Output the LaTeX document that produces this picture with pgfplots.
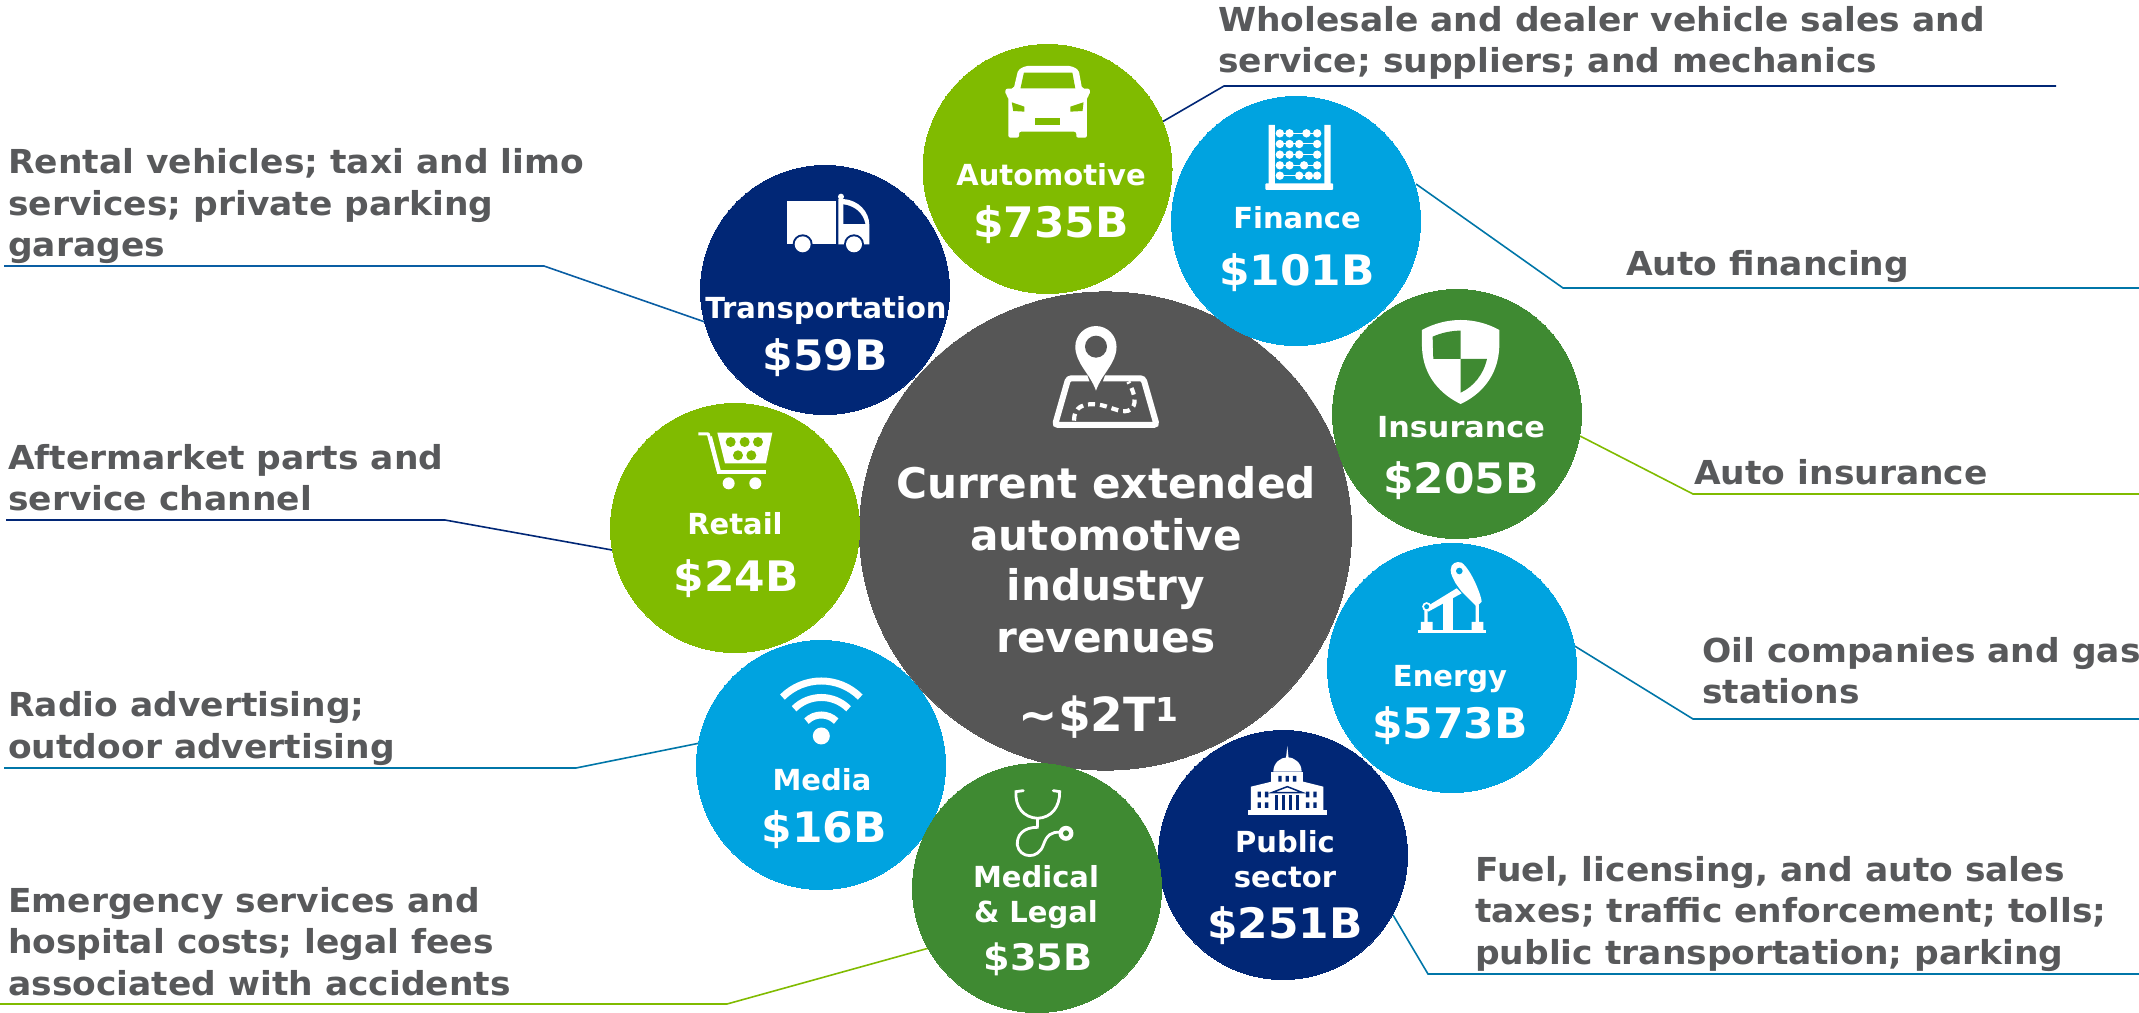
\documentclass[border=0pt]{standalone}
\usepackage{pgfplots}
\pgfplotsset{compat=1.18}
\usepackage{fontspec}
\setmainfont{DejaVu Sans}
\definecolor{lime}{HTML}{80BB00}
\definecolor{sky}{HTML}{00A3E0}
\definecolor{forest}{HTML}{3F8A32}
\definecolor{navy}{HTML}{012776}
\definecolor{hub}{HTML}{565656}
\definecolor{txt}{HTML}{58595B}
\definecolor{teal}{HTML}{0076A8}
\definecolor{deep}{HTML}{0A5EA3}
\newcommand{\T}[3]{\node[anchor=base west,inner sep=0pt,xscale=1.045,text=txt,font=\fontsize{33}{33}\selectfont\bfseries] at (axis cs:#1,#2) {#3};}
\newcommand{\C}[4]{\node[anchor=base,inner sep=0pt,text=white,font=\fontsize{#3}{#3}\selectfont\bfseries] at (axis cs:#1,#2) {#4};}
\newcommand{\V}[4]{\node[anchor=base,inner sep=0pt,xscale=1.045,text=white,font=\fontsize{#3}{#3}\selectfont\bfseries] at (axis cs:#1,#2) {#4};}
\tikzset{crop/.style n args={3}{x=1pt/#3,y=-0.33333pt,shift={(#1*#3,#2*3)}}}
\pgfplotsset{canvas/.style={at={(0,0)},anchor=south west,width=2139pt,height=1012pt,scale only axis,hide axis,
  xmin=0,xmax=2139,ymin=0,ymax=1012,y dir=reverse,clip=false}}
\begin{document}
\begin{tikzpicture}
\useasboundingbox (0,0) rectangle (2139pt,1012pt);
\clip (0,0) rectangle (2139pt,1012pt);
\begin{axis}[canvas]
% leader lines
\addplot[navy,line width=1.6pt,mark=none] coordinates {(1162,122)(1224,86)(2056,86)};
\addplot[teal,line width=1.6pt,mark=none] coordinates {(1416,184)(1563,288)(2139,288)};
\addplot[lime,line width=1.6pt,mark=none] coordinates {(1580,436)(1693,494)(2139,494)};
\addplot[teal,line width=1.6pt,mark=none] coordinates {(1573,645)(1693,719)(2139,719)};
\addplot[teal,line width=1.6pt,mark=none] coordinates {(1393,915)(1428,974)(2139,974)};
\addplot[lime,line width=1.6pt,mark=none] coordinates {(929,948)(727,1004)(0,1004)};
\addplot[teal,line width=1.6pt,mark=none] coordinates {(700,743)(576,768)(4,768)};
\addplot[navy,line width=1.6pt,mark=none] coordinates {(612,550)(445,520)(6,520)};
\addplot[deep,line width=1.6pt,mark=none] coordinates {(705,322)(544,266)(4,266)};
% bubbles
\addplot[only marks,mark=*,mark size=246pt,mark options={draw=hub,fill=hub,line width=0pt,yscale=0.972}] coordinates {(1105.5,531)};
\addplot[only marks,mark=*,mark size=124.5pt,mark options={draw=lime,fill=lime,line width=0pt}] coordinates {(1047.5,169)(735,528)};
\addplot[only marks,mark=*,mark size=124.5pt,mark options={draw=navy,fill=navy,line width=0pt}] coordinates {(825,290)(1283,855)};
\addplot[only marks,mark=*,mark size=124.5pt,mark options={draw=sky,fill=sky,line width=0pt}] coordinates {(1296,221)(1452,668)(821,765)};
\addplot[only marks,mark=*,mark size=124.5pt,mark options={draw=forest,fill=forest,line width=0pt}] coordinates {(1457,414)(1037,888)};
\end{axis}
\begin{axis}[canvas]
% outer text
\T{1218}{31}{Wholesale and dealer vehicle sales and}
\T{1218}{72}{service; suppliers; and mechanics}
\T{1626}{275}{Auto financing}
\T{1694}{484}{Auto insurance}
\T{1702}{662}{Oil companies and gas}
\T{1702}{703}{stations}
\T{1475}{881}{Fuel, licensing, and auto sales}
\T{1475}{922}{taxes; traffic enforcement; tolls;}
\T{1475}{964}{public transportation; parking}
\T{8}{173}{Rental vehicles; taxi and limo}
\T{8}{215}{services; private parking}
\T{8}{256}{garages}
\T{8}{469}{Aftermarket parts and}
\T{8}{510}{service channel}
\T{8}{716}{Radio advertising;}
\T{8}{758}{outdoor advertising}
\T{8}{912}{Emergency services and}
\T{8}{953}{hospital costs; legal fees}
\T{8}{995}{associated with accidents}
% bubble text
\C{1051}{185}{29}{Automotive}
\V{1051}{237}{42}{\$735B}
\C{1297}{228}{29}{Finance}
\V{1297}{285}{42}{\$101B}
\V{1461}{437}{29}{Insurance}
\V{1461}{493}{42}{\$205B}
\C{1450}{686}{29}{Energy}
\V{1450}{738}{42}{\$573B}
\C{1285}{852}{29}{Public}
\C{1285}{887}{29}{sector}
\V{1285}{938}{42}{\$251B}
\C{1036}{887}{29}{Medical}
\C{1036}{922}{29}{\& Legal}
\V{1038}{970}{36.5}{\$35B}
\C{822}{790}{29}{Media}
\V{824}{842}{42}{\$16B}
\C{735}{534}{29}{Retail}
\V{736}{591}{42}{\$24B}
\C{826}{318}{29}{Transportation}
\V{825}{370}{42}{\$59B}
\C{1106}{498}{42.2}{Current extended}
\C{1106}{550}{42.2}{automotive}
\C{1106}{600}{42.2}{industry}
\C{1106}{652}{42.2}{revenues}
\C{1099}{731}{47}{\textasciitilde\$2T\textsuperscript{1}}
\end{axis}
\begin{scope}[x=1pt,y=-1pt,yshift=1012pt]
% car
\begin{scope}[crop={880}{0}{2.063}]
\fill[white,rounded corners=2pt] (265,413)--(265,290)--(259,285)--(259,266)--(276,266)--(285,210)--(300,198)--(395,198)--(410,210)--(417,266)--(433,266)--(433,285)--(427,290)--(427,413)--(405,413)--(405,395)--(287,395)--(287,413)--cycle;
\fill[lime] (290,265)--(297,218)--(397,218)--(403,265)--cycle;
\fill[lime] (272,307)--(298,320)--(298,335)--(275,333)--cycle;
\fill[lime] (420,307)--(393,320)--(393,335)--(418,333)--cycle;
\fill[lime] (320,355) rectangle (372,375);
% abacus
\fill[white] (802,375) rectangle (815,555) (917,375) rectangle (930,555);
\fill[white,rounded corners=1pt] (795,550) rectangle (935,570);
\foreach \y/\a/\b/\c/\d in {400/825/845/880/902,432/825/845/865/902,464/825/845/865/902,496/825/845/875/902,527/825/865/885/902}{
  \draw[white,line width=1pt] (820,\y)--(910,\y);
  \foreach \xx in {\a,\b,\c,\d}{\fill[white] (\xx,\y) circle (4.2pt);}
}
\end{scope}
% truck
\begin{scope}[crop={680}{150}{3}]
\fill[white] (320,153) rectangle (468,283);
\fill[white] (475,283)--(475,147)--(490,147) .. controls (535,150) and (568,185) .. (568,225)--(568,283)--cycle;
\fill[navy] (490,163) .. controls (525,168) and (550,190) .. (556,222)--(490,222)--cycle;
\fill[white] (483,140) circle (3pt);
\fill[navy] (368,283) circle (10pt) (522,283) circle (10pt);
\fill[white] (368,283) circle (8pt) (522,283) circle (8pt);
\end{scope}
% map pin
\begin{scope}[crop={1000}{300}{3}]
\draw[white,line width=6pt,rounded corners=3pt] (205,235)--(430,235)--(470,375)--(165,375)--cycle;
\draw[white,line width=4.2pt,dash pattern=on 7pt off 5pt] (222,362) .. controls (222,320) and (250,310) .. (290,313) .. controls (330,318) and (360,340) .. (385,332) .. controls (415,320) and (405,280) .. (385,245);
\fill[hub] (250,190)--(288,300)--(328,190)--cycle;
\fill[white] (288,272) .. controls (270,220) and (226,190) .. (226,140) arc[start angle=180,end angle=0,radius=20.6pt] .. controls (350,190) and (306,220) .. (288,272)--cycle;
\fill[hub] (288,140) circle (11pt);
\end{scope}
% shield and pumpjack
\begin{scope}[crop={1360}{280}{3}]
\fill[white] (186,150) .. controls (260,110) and (345,110) .. (418,150)--(418,200) .. controls (415,290) and (360,345) .. (302,372) .. controls (245,345) and (188,290) .. (186,200)--cycle;
\fill[forest] (218,170) .. controls (245,158) and (275,152) .. (302,152)--(302,237)--(220,237)--cycle;
\fill[forest] (302,237)--(381,237) .. controls (370,285) and (340,320) .. (302,338)--cycle;
\fill[white] (175,1049) rectangle (378,1060);
\fill[white] (183,1026) rectangle (218,1050) (335,1026) rectangle (370,1050);
\fill[white] (250,955) rectangle (280,1050);
\fill[white] (193,985) rectangle (203,1030) (347,975) rectangle (357,1030);
\fill[white] (200,980)--(290,925)--(305,940)--(205,995)--cycle;
\fill[white] (272,870) .. controls (272,850) and (290,842) .. (305,848) .. controls (335,870) and (365,950) .. (365,965)--(350,980)--(305,935)--(287,910) .. controls (282,900) and (272,885) .. (272,870)--cycle;
\fill[white] (200,980) circle (4.5pt);
\fill[sky] (298,873) circle (3.3pt) (200,980) circle (2.5pt);
\end{scope}
% wifi
\begin{scope}[crop={680}{440}{3}]
\fill[white] (424,888) circle (8.5pt);
\foreach \r in {21,38.5,55}{
  \draw[white,line width=7pt] (424,888) ++(135:\r pt) arc[start angle=135,end angle=45,radius=\r pt];
}
\end{scope}
% cart
\begin{scope}[crop={680}{420}{3}]
\draw[white,line width=3pt,line join=round] (55,42)--(85,42)--(115,155);
\fill[white] (112,150) rectangle (258,163);
\draw[white,line width=4pt] (90,50)--(117,155);
\fill[white] (112,38)--(277,38)--(258,130)--(135,130)--cycle;
\fill[lime] (152,66) circle (5pt) (194,66) circle (5pt) (234,66) circle (5pt) (174,106) circle (5pt) (214,106) circle (5pt);
\fill[white] (146,190) circle (6pt) (226,190) circle (6pt);
\end{scope}
% stethoscope
\begin{scope}[crop={960}{770}{3}]
\draw[white,line width=2.8pt,line cap=round] (190,62)--(168,65) .. controls (165,110) and (190,143) .. (233,145) .. controls (275,143) and (300,110) .. (299,65)--(280,62);
\draw[white,line width=2.8pt] (233,145)--(232,172) .. controls (190,172) and (170,195) .. (172,225) .. controls (178,265) and (235,270) .. (250,225) .. controls (260,195) and (275,185) .. (300,187);
\fill[white] (318,190) circle (7.5pt);
\fill[forest] (318,190) circle (3pt);
\end{scope}
% capitol
\begin{scope}[crop={1235}{740}{3}]
\fill[white] (157,18)--(153,55)--(161,55)--cycle;
\fill[white] (115,95) .. controls (115,70) and (135,52) .. (157,52) .. controls (180,52) and (200,70) .. (200,95)--cycle;
\fill[white] (108,95) rectangle (205,135);
\fill[white] (48,140)--(110,125)--(205,125)--(265,140)--(265,210)--(48,210)--cycle;
\fill[white] (38,210) rectangle (275,225);
\fill[navy] (130,108) rectangle (140,125) (152,108) rectangle (162,125) (174,108) rectangle (184,125);
\foreach \xx in {68,90,213,235}{\fill[navy] (\xx,155) rectangle (\xx+10,172) (\xx,187) rectangle (\xx+10,204);}
\draw[navy,line width=1.5pt] (110,158)--(157,140)--(203,158)--cycle;
\foreach \xx in {120,142,162,182}{\fill[navy] (\xx,165) rectangle (\xx+9,210);}
\end{scope}
\end{scope}
\end{tikzpicture}
\end{document}
